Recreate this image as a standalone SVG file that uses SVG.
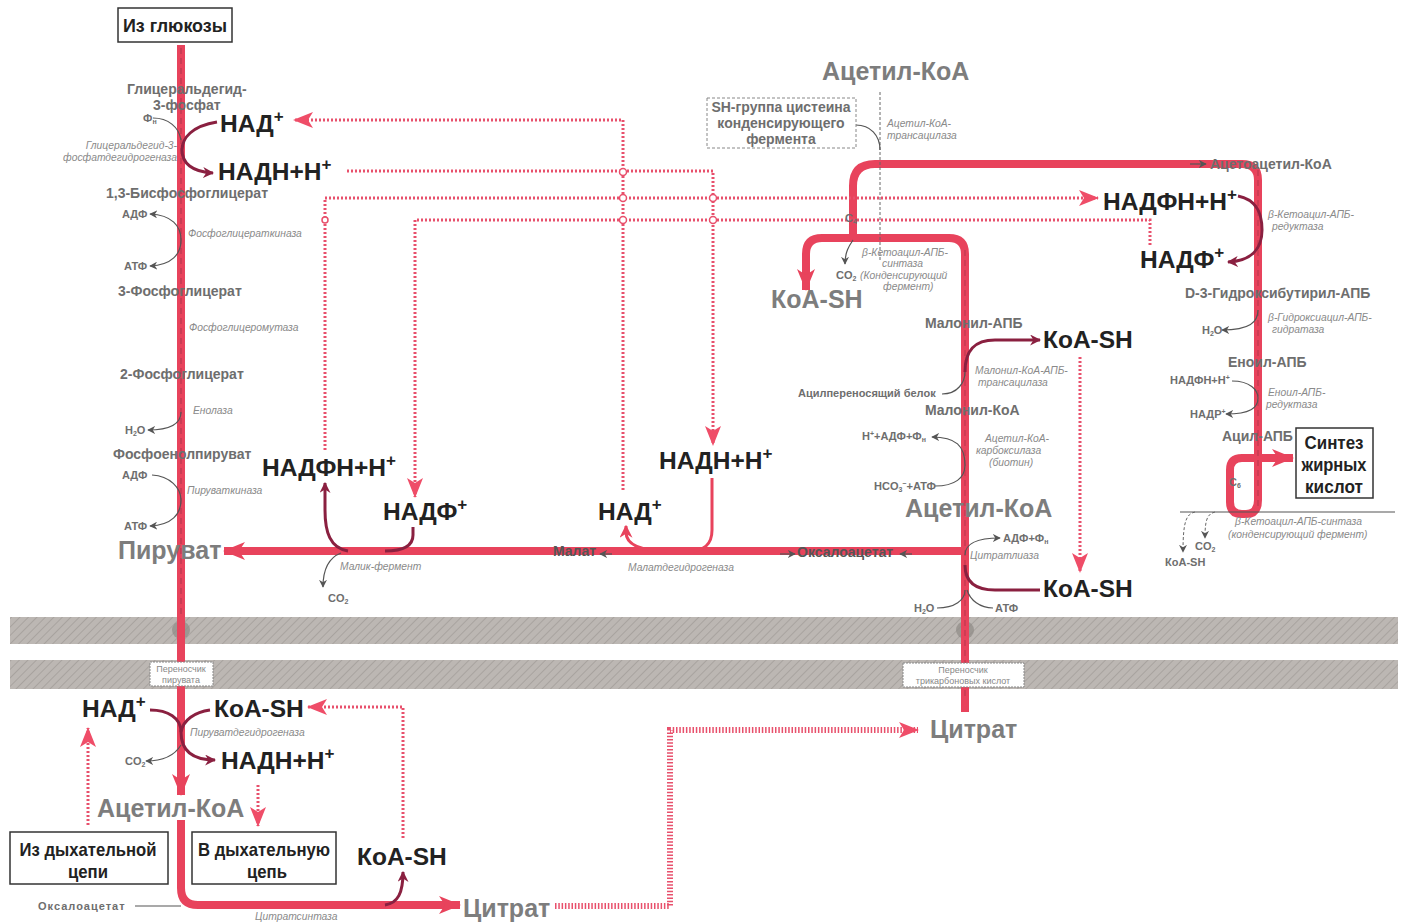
<svg xmlns="http://www.w3.org/2000/svg" width="1404" height="923" viewBox="0 0 1404 923">
<style>
.red{fill:none;stroke:#e8435c;stroke-width:8}
.dr{fill:none;stroke:#8a2040;stroke-width:3}
.rr{fill:none;stroke:#e8435c;stroke-width:3}
.thin{fill:none;stroke:#555;stroke-width:1.2}
.dash{fill:none;stroke:#666;stroke-width:1;stroke-dasharray:3 2}
.dot{fill:none;stroke:#e8506c;stroke-width:3;stroke-dasharray:2 2}
.dotb{fill:none;stroke:#e8506c;stroke-width:6;stroke-dasharray:1.5 1.8}
text{font-family:"Liberation Sans",Arial,sans-serif}
.big{font-weight:bold;font-size:24.5px;fill:#222}
.bigg{font-weight:bold;font-size:25px;fill:#7d7d7d}
.lbl{font-weight:bold;font-size:14px;fill:#6e6e6e}
.sm{font-weight:bold;font-size:11px;fill:#6e6e6e}
.enz{font-style:italic;font-size:10.3px;fill:#8a8a8a}
.box{fill:#fff;stroke:#333;stroke-width:1.5}
.boxt{font-weight:bold;font-size:19px;fill:#222}
.tb{fill:#fff;stroke:#888;stroke-width:1;stroke-dasharray:2 1}
.tt{font-size:9px;fill:#888}
</style>
<defs>
<pattern id="hatch" width="6" height="6" patternUnits="userSpaceOnUse" patternTransform="rotate(45)">
<rect width="6" height="6" fill="#bcb7b3"/><line x1="0" y1="0" x2="0" y2="6" stroke="#a8a39f" stroke-width="2"/>
</pattern>
<marker id="ma" viewBox="0 0 22 18" refX="21" refY="9" markerWidth="22" markerHeight="18" markerUnits="userSpaceOnUse" orient="auto"><path d="M0,0 L22,9 L0,18 L6,9Z" fill="#e8435c"/></marker>
<marker id="mp" viewBox="0 0 20 16" refX="19" refY="8" markerWidth="20" markerHeight="16" markerUnits="userSpaceOnUse" orient="auto"><path d="M0,0 L20,8 L0,16 L5,8Z" fill="#ef4d68"/></marker>
<marker id="md" viewBox="0 0 10 10" refX="9" refY="5" markerWidth="11" markerHeight="11" markerUnits="userSpaceOnUse" orient="auto"><path d="M0,0 L10,5 L0,10 L3,5Z" fill="#8a2040"/></marker>
<marker id="mr" viewBox="0 0 10 10" refX="9" refY="5" markerWidth="13" markerHeight="13" markerUnits="userSpaceOnUse" orient="auto"><path d="M0,0 L10,5 L0,10 L3,5Z" fill="#e8435c"/></marker>
<marker id="mt" viewBox="0 0 10 10" refX="9" refY="5" markerWidth="8" markerHeight="8" markerUnits="userSpaceOnUse" orient="auto-start-reverse"><path d="M0,0 L10,5 L0,10 L3,5Z" fill="#555"/></marker>
</defs>
<rect width="1404" height="923" fill="#fff"/>
<g id="membranes">
<rect x="10" y="617" width="1388" height="27" fill="url(#hatch)"/>
<rect x="10" y="660" width="1388" height="29" fill="url(#hatch)"/>
<circle cx="181" cy="630" r="9" fill="#8f8a86" opacity="0.7"/>
<circle cx="965" cy="630" r="9" fill="#8f8a86" opacity="0.7"/>
</g>
<g id="connectors">
<path class="red" d="M181,45 V795" marker-end="url(#ma)"/>
<path class="red" d="M181,820 V888 Q181,905 198,905 H460" marker-end="url(#ma)"/>
<path class="red" d="M965,712 V254 Q965,238 949,238 H822 Q806,238 806,254 V290" marker-end="url(#ma)"/>
<path class="red" d="M853,238 V186 Q853,164 875,164 H1242 Q1258,164 1258,180 V500 Q1258,514 1246,514 H1242 Q1230,514 1230,502 V470 Q1230,458 1242,458 H1293" marker-end="url(#ma)"/>
<path class="red" d="M965,551 H224" marker-end="url(#ma)"/>
<path d="M181,48 V618" stroke="#6a2a3a" stroke-width="0.8" stroke-dasharray="6 4" fill="none" opacity="0.6"/>
<path d="M1258,170 V510" stroke="#6a2a3a" stroke-width="0.8" stroke-dasharray="6 4" fill="none" opacity="0.5"/>
<path d="M965,250 V700" stroke="#6a2a3a" stroke-width="0.8" stroke-dasharray="6 4" fill="none" opacity="0.5"/>
<path class="thin" d="M1190,164 H1206" marker-end="url(#mt)"/>
<path class="dot" d="M623,490 V120 H294" marker-end="url(#mp)"/>
<path class="dot" d="M347,171 H713 V445" marker-end="url(#mp)"/>
<path class="dot" d="M325,450 V198 H1098" marker-end="url(#mp)"/>
<path class="dot" d="M1150,245 V220 H415 V497" marker-end="url(#mp)"/>
<path class="dot" d="M1080,357 V572" marker-end="url(#mp)"/>
<path class="dot" d="M258,785 V826" marker-end="url(#mp)"/>
<path class="dot" d="M88,825 V728" marker-end="url(#mp)"/>
<path class="dot" d="M403,838 V707 H308" marker-end="url(#mp)"/>
<path class="dotb" d="M555,906 H670 V730 H918" marker-end="url(#mp)"/>
<g fill="#fff" stroke="#e8506c" stroke-width="1.5">
<circle cx="623" cy="172" r="3.5"/><circle cx="623" cy="198" r="3.5"/><circle cx="623" cy="220" r="3.5"/>
<circle cx="713" cy="198" r="3.5"/><circle cx="713" cy="220" r="3.5"/><circle cx="325" cy="220" r="3"/>
</g>
<path class="dr" d="M217,122 C192,126 182,138 182,150 C182,163 192,172 213,173" marker-end="url(#md)"/>
<path class="thin" d="M153,118 C168,118 179,127 181,140"/>
<path class="thin" d="M181,240 C181,226 172,215 150,214" marker-end="url(#mt)"/>
<path class="thin" d="M181,240 C181,254 172,265 150,266" marker-end="url(#mt)"/>
<path class="thin" d="M181,412 C181,424 170,430 148,430" marker-end="url(#mt)"/>
<path class="thin" d="M152,475 C170,476 181,488 181,500 C181,514 172,525 150,526" marker-end="url(#mt)"/>
<path class="thin" d="M341,553 C328,558 323,570 323,587" marker-end="url(#mt)"/>
<path class="dr" d="M348,551 C330,548 325,532 325,510 V483" marker-end="url(#md)"/>
<path class="dr" d="M413,527 V535 C413,546 402,551 385,551"/>
<path class="rr" d="M668,551 C642,551 626,545 626,532 V526" marker-end="url(#mr)"/>
<path class="rr" d="M712,478 V530 C712,545 704,551 688,551"/>
<path class="thin" d="M612,554 H600" marker-end="url(#mt)"/>
<path class="thin" d="M912,554 H900" marker-end="url(#mt)"/>
<path class="thin" d="M780,554 H795" marker-end="url(#mt)"/>
<path class="dash" d="M880,92 V262"/>
<path class="thin" d="M856,125 C870,125 880,135 880,150"/>
<path class="thin" d="M853,240 C849,246 845,252 845,264" marker-end="url(#mt)"/>
<path class="dr" d="M1238,196 C1258,200 1262,215 1262,230 C1262,250 1250,261 1228,262" marker-end="url(#md)"/>
<path class="thin" d="M1258,310 C1258,322 1250,330 1222,330" marker-end="url(#mt)"/>
<path class="thin" d="M1232,381 C1250,381 1258,390 1258,398 C1258,408 1250,414 1226,414" marker-end="url(#mt)"/>
<path class="thin" d="M1180,512 H1395"/>
<path class="dash" d="M1215,512 C1207,514 1205,520 1205,538" marker-end="url(#mt)"/>
<path class="dash" d="M1195,512 C1186,514 1183,522 1183,552" marker-end="url(#mt)"/>
<path class="thin" d="M942,394 C958,394 965,382 965,372"/>
<path class="dr" d="M965,372 C965,350 975,340 995,340 H1040" marker-end="url(#md)"/>
<path class="thin" d="M965,465 C965,446 956,437 932,437" marker-end="url(#mt)"/>
<path class="thin" d="M935,486 C955,486 965,478 965,465"/>
<path class="thin" d="M965,555 C965,545 975,538 1000,538" marker-end="url(#mt)"/>
<path class="dr" d="M965,565 C965,582 975,590 995,590 H1040"/>
<path class="thin" d="M937,608 C955,608 965,600 965,590"/>
<path class="thin" d="M993,608 C980,608 970,600 967,590"/>
<path class="dr" d="M150,710 C168,710 181,718 181,732 C181,750 192,760 215,760" marker-end="url(#md)"/>
<path class="dr" d="M210,710 C195,712 183,720 181,732"/>
<path class="thin" d="M181,745 C175,755 165,761 146,761" marker-end="url(#mt)"/>
<path class="dr" d="M385,905 C398,903 403,893 403,872" marker-end="url(#md)"/>
<path class="thin" d="M135,906 H181"/>
</g>
<g id="n-glucose"><rect class="box" x="118" y="8" width="114" height="34"/><text class="boxt" x="175" y="32" text-anchor="middle" textLength="104" lengthAdjust="spacingAndGlyphs">Из глюкозы</text></g>
<g id="n-glycolysis">
<text class="lbl" x="127" y="94">Глицеральдегид-</text>
<text class="lbl" x="153" y="110">3-фосфат</text>
<text class="sm" x="143" y="122" font-size="9">Ф<tspan font-size="7" dy="2">н</tspan></text>
<text class="enz" x="177" y="149" text-anchor="end">Глицеральдегид-3-</text>
<text class="enz" x="177" y="161" text-anchor="end">фосфатдегидрогеназа</text>
<text class="lbl" x="106" y="198">1,3-Бисфосфоглицерат</text>
<text class="sm" x="122" y="218">АДФ</text>
<text class="enz" x="188" y="237">Фосфоглицераткиназа</text>
<text class="sm" x="124" y="270">АТФ</text>
<text class="lbl" x="118" y="296">3-Фосфоглицерат</text>
<text class="enz" x="189" y="331">Фосфоглицеромутаза</text>
<text class="lbl" x="120" y="379">2-Фосфоглицерат</text>
<text class="enz" x="193" y="414">Енолаза</text>
<text class="sm" x="125" y="434">H<tspan font-size="7" dy="2">2</tspan><tspan dy="-2">O</tspan></text>
<text class="lbl" x="113" y="459">Фосфоенолпируват</text>
<text class="sm" x="122" y="479">АДФ</text>
<text class="enz" x="187" y="494">Пируваткиназа</text>
<text class="sm" x="124" y="530">АТФ</text>
</g>
<g id="n-nad1"><text class="big" x="220" y="132">НАД<tspan font-size="17" dy="-10">+</tspan></text></g>
<g id="n-nadh1"><text class="big" x="218" y="180">НАДН+Н<tspan font-size="17" dy="-10">+</tspan></text></g>
<g id="n-pyruvate"><text class="bigg" x="118" y="559">Пируват</text></g>
<g id="n-malic">
<text class="enz" x="340" y="570">Малик-фермент</text>
<text class="sm" x="328" y="602">CO<tspan font-size="7" dy="2">2</tspan></text>
</g>
<g id="n-nadph-l"><text class="big" x="262" y="476">НАДФН+Н<tspan font-size="17" dy="-10">+</tspan></text></g>
<g id="n-nadp-l"><text class="big" x="383" y="520">НАДФ<tspan font-size="17" dy="-10">+</tspan></text></g>
<g id="n-nad-m"><text class="big" x="598" y="520">НАД<tspan font-size="17" dy="-10">+</tspan></text></g>
<g id="n-nadh-m"><text class="big" x="659" y="469">НАДН+Н<tspan font-size="17" dy="-10">+</tspan></text></g>
<g id="n-malate"><text class="lbl" x="553" y="556" font-size="12.5" style="fill:#555">Малат</text><text class="enz" x="628" y="571">Малатдегидрогеназа</text></g>
<g id="n-oxaloacetate"><text class="lbl" x="797" y="557" font-size="12.5" style="fill:#555">Оксалоацетат</text></g>
<g id="n-acetylcoa-top"><text class="bigg" x="822" y="80">Ацетил-КоА</text></g>
<g id="n-sh"><rect class="tb" x="707" y="98" width="149" height="50" style="stroke-dasharray:3 2"/>
<text class="lbl" x="781" y="112" text-anchor="middle" font-size="12.5">SH-группа цистеина</text>
<text class="lbl" x="781" y="128" text-anchor="middle" font-size="12.5">конденсирующего</text>
<text class="lbl" x="781" y="144" text-anchor="middle" font-size="12.5">фермента</text></g>
<g id="n-condense">
<text class="enz" x="887" y="127">Ацетил-КоА-</text>
<text class="enz" x="887" y="139">трансацилаза</text>
<text class="sm" x="845" y="222">C<tspan font-size="7" dy="2">4</tspan></text>
<text class="enz" x="862" y="256">β-Кетоацил-АПБ-</text>
<text class="enz" x="882" y="267">синтаза</text>
<text class="sm" x="836" y="279">CO<tspan font-size="7" dy="2">2</tspan></text>
<text class="enz" x="860" y="279">(Конденсирующий</text>
<text class="enz" x="883" y="290">фермент)</text>
</g>
<g id="n-coash-g"><text class="bigg" x="771" y="308">КоА-SH</text></g>
<g id="n-malonyl">
<text class="lbl" x="925" y="328">Малонил-АПБ</text>
<text class="enz" x="975" y="374">Малонил-КоА-АПБ-</text>
<text class="enz" x="978" y="386">трансацилаза</text>
<text class="sm" x="798" y="397">Ацилпереносящий белок</text>
<text class="lbl" x="925" y="415">Малонил-КоА</text>
<text class="sm" x="862" y="440">H<tspan font-size="7" dy="-4">+</tspan><tspan dy="4">+АДФ+Ф</tspan><tspan font-size="7" dy="2">н</tspan></text>
<text class="enz" x="985" y="442">Ацетил-КоА-</text>
<text class="enz" x="976" y="454">карбоксилаза</text>
<text class="enz" x="989" y="466">(биотин)</text>
<text class="sm" x="874" y="490">HCO<tspan font-size="7" dy="2">3</tspan><tspan font-size="7" dy="-6">−</tspan><tspan dy="4">+АТФ</tspan></text>
</g>
<g id="n-coash-r1"><text class="big" x="1043" y="348">КоА-SH</text></g>
<g id="n-acetylcoa-mid"><text class="bigg" x="905" y="517">Ацетил-КоА</text></g>
<g id="n-citlyase">
<text class="sm" x="1003" y="542">АДФ+Ф<tspan font-size="7" dy="2">н</tspan></text>
<text class="enz" x="970" y="559">Цитратлиаза</text>
<text class="sm" x="914" y="612">H<tspan font-size="7" dy="2">2</tspan><tspan dy="-2">O</tspan></text>
<text class="sm" x="995" y="612">АТФ</text>
</g>
<g id="n-coash-r2"><text class="big" x="1043" y="597">КоА-SH</text></g>
<g id="n-right-cycle">
<text class="lbl" x="1210" y="169" font-size="13">Ацетоацетил-КоА</text>
<text class="enz" x="1268" y="218">β-Кетоацил-АПБ-</text>
<text class="enz" x="1272" y="230">редуктаза</text>
<text class="lbl" x="1185" y="298">D-3-Гидроксибутирил-АПБ</text>
<text class="sm" x="1202" y="334">H<tspan font-size="7" dy="2">2</tspan><tspan dy="-2">O</tspan></text>
<text class="enz" x="1268" y="321">β-Гидроксиацил-АПБ-</text>
<text class="enz" x="1272" y="333">гидратаза</text>
<text class="lbl" x="1228" y="367" font-size="13">Еноил-АПБ</text>
<text class="sm" x="1170" y="384">НАДФН+Н<tspan font-size="7" dy="-4">+</tspan></text>
<text class="enz" x="1268" y="396">Еноил-АПБ-</text>
<text class="enz" x="1266" y="408">редуктаза</text>
<text class="sm" x="1190" y="418">НАДР<tspan font-size="7" dy="-4">+</tspan></text>
<text class="lbl" x="1222" y="441" font-size="13">Ацил-АПБ</text>
<text class="sm" x="1229" y="486">C<tspan font-size="7" dy="2">6</tspan></text>
<text class="enz" x="1235" y="525">β-Кетоацил-АПБ-синтаза</text>
<text class="enz" x="1228" y="538">(конденсирующий фермент)</text>
<text class="sm" x="1195" y="550">CO<tspan font-size="7" dy="2">2</tspan></text>
<text class="sm" x="1165" y="566" font-size="9">КоА-SH</text>
</g>
<g id="n-nadph-r"><text class="big" x="1103" y="210">НАДФН+Н<tspan font-size="17" dy="-10">+</tspan></text></g>
<g id="n-nadp-r"><text class="big" x="1140" y="268">НАДФ<tspan font-size="17" dy="-10">+</tspan></text></g>
<g id="n-fas"><rect class="box" x="1296" y="428" width="77" height="70"/>
<text class="boxt" x="1334" y="449" text-anchor="middle" textLength="59" lengthAdjust="spacingAndGlyphs">Синтез</text>
<text class="boxt" x="1334" y="471" text-anchor="middle" textLength="65" lengthAdjust="spacingAndGlyphs">жирных</text>
<text class="boxt" x="1334" y="493" text-anchor="middle" textLength="58" lengthAdjust="spacingAndGlyphs">кислот</text></g>
<g id="n-pyr-carrier"><rect class="tb" x="150" y="662" width="63" height="24"/>
<text class="tt" x="181" y="672" text-anchor="middle">Переносчик</text>
<text class="tt" x="181" y="683" text-anchor="middle">пирувата</text></g>
<g id="n-tca-carrier"><rect class="tb" x="903" y="663" width="121" height="24"/>
<text class="tt" x="963" y="673" text-anchor="middle">Переносчик</text>
<text class="tt" x="963" y="684" text-anchor="middle">трикарбоновых кислот</text></g>
<g id="n-pdh">
<text class="enz" x="190" y="736">Пируватдегидрогеназа</text>
<text class="sm" x="125" y="765">CO<tspan font-size="7" dy="2">2</tspan></text>
</g>
<g id="n-nad-b"><text class="big" x="82" y="717">НАД<tspan font-size="17" dy="-10">+</tspan></text></g>
<g id="n-coash-b1"><text class="big" x="214" y="717">КоА-SH</text></g>
<g id="n-nadh-b"><text class="big" x="221" y="769">НАДН+Н<tspan font-size="17" dy="-10">+</tspan></text></g>
<g id="n-acetylcoa-b"><text class="bigg" x="97" y="817">Ацетил-КоА</text></g>
<g id="n-from-resp"><rect class="box" x="10" y="832" width="158" height="52"/>
<text class="boxt" x="88" y="856" text-anchor="middle" textLength="137" lengthAdjust="spacingAndGlyphs">Из дыхательной</text>
<text class="boxt" x="88" y="878" text-anchor="middle" textLength="40" lengthAdjust="spacingAndGlyphs">цепи</text></g>
<g id="n-to-resp"><rect class="box" x="192" y="832" width="144" height="52"/>
<text class="boxt" x="264" y="856" text-anchor="middle" textLength="132" lengthAdjust="spacingAndGlyphs">В дыхательную</text>
<text class="boxt" x="267" y="878" text-anchor="middle" textLength="40" lengthAdjust="spacingAndGlyphs">цепь</text></g>
<g id="n-coash-b2"><text class="big" x="357" y="865">КоА-SH</text></g>
<g id="n-citrate-b"><text class="bigg" x="463" y="917" font-size="22.5">Цитрат</text></g>
<g id="n-oaa-b"><text class="sm" x="38" y="910" letter-spacing="1">Оксалоацетат</text><text class="enz" x="255" y="920">Цитратсинтаза</text></g>
<g id="n-citrate-r"><text class="bigg" x="930" y="738" font-size="22.5">Цитрат</text></g>
</svg>
